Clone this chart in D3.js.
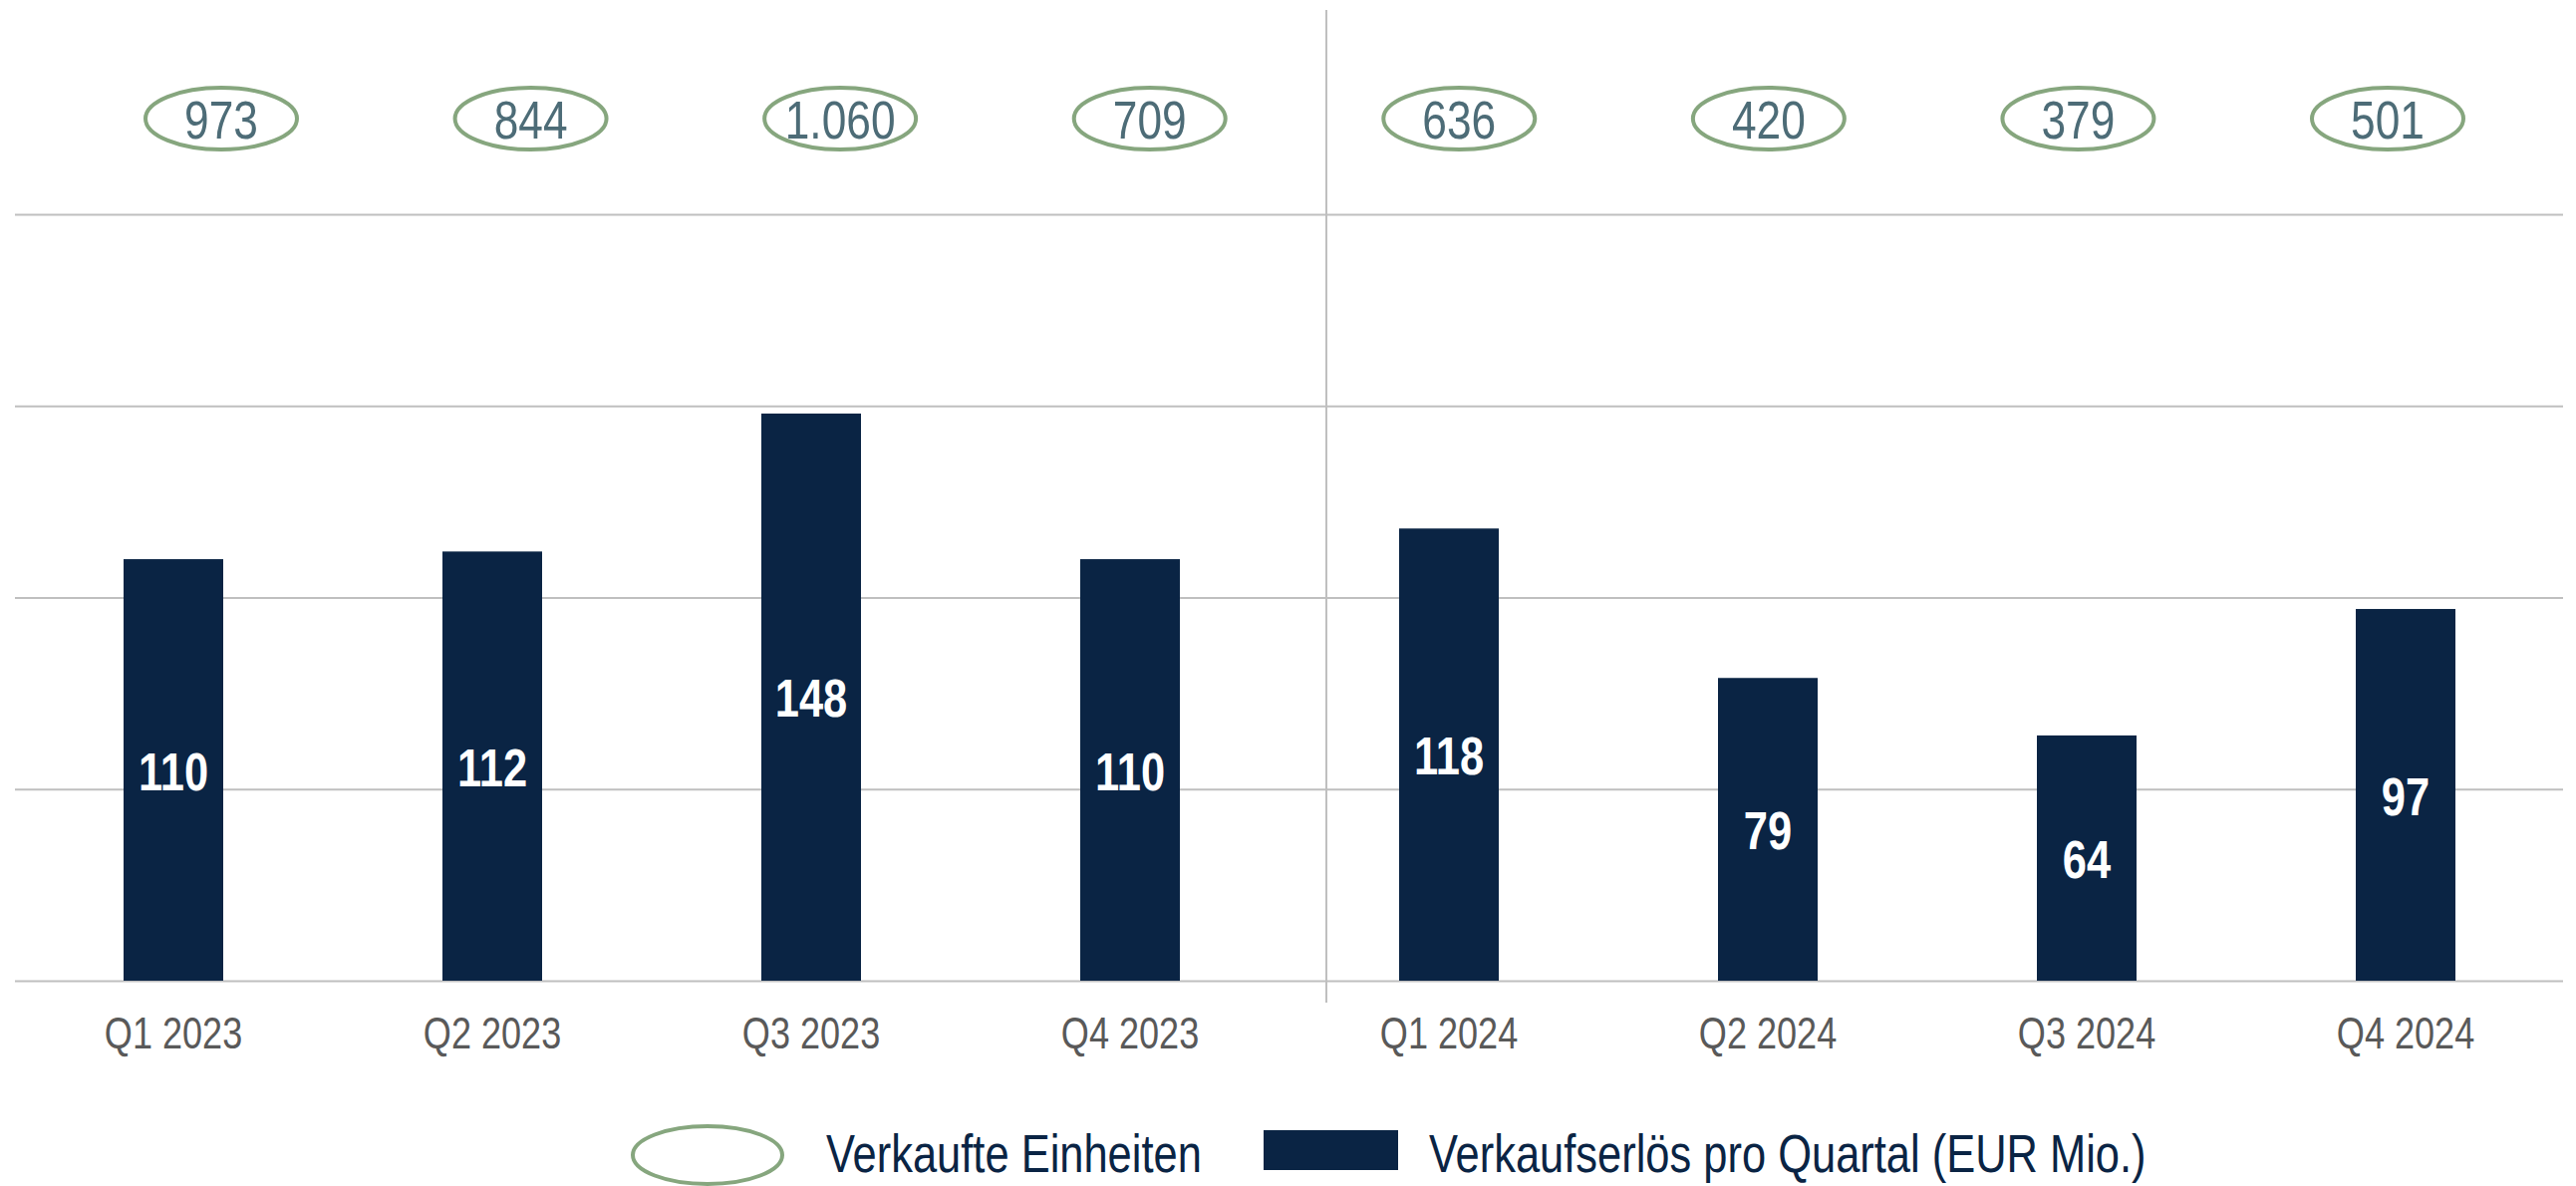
<!DOCTYPE html>
<html>
<head>
<meta charset="utf-8">
<script src="https://cdn.jsdelivr.net/npm/d3@7"></script>
<style>
  body { margin: 0; background: #fff; }
  text { font-family: "Liberation Sans", Arial, sans-serif; }
</style>
</head>
<body>
<div id="chart"></div>
<script>
// data
var quarters = ["Q1 2023", "Q2 2023", "Q3 2023", "Q4 2023", "Q1 2024", "Q2 2024", "Q3 2024", "Q4 2024"];
var revenue = [110, 112, 148, 110, 118, 79, 64, 97];          // EUR Mio.
var units = ["973", "844", "1.060", "709", "636", "420", "379", "501"];
var yTicks = [0, 50, 100, 150, 200];

var svgWidth = 2585;
var svgHeight = 1190;

var navy = "#0a2444";
var green = "#86a67e";
var narrow = 0.82;   // fake a narrow face by squeezing Liberation Sans

var svg = d3.select("#chart").append("svg")
  .attr("width", svgWidth)
  .attr("height", svgHeight);

// put a squeezed text at (px, py)
function narrowText(sel, px, py) {
  return sel.attr("x", 0).attr("y", 0)
    .attr("transform", (d, i) => `translate(${px(d, i)},${py(d, i)}) scale(${narrow},1)`);
}

// scales
var x = d3.scaleBand()
  .domain(quarters)
  .range([14, 2574])
  .paddingInner(0.6875)
  .paddingOuter(0.34375);

var y = d3.scaleLinear()
  .domain([0, 200])
  .range([984, 215]);

// units row sits on its own spacing
var xUnits = d3.scalePoint()
  .domain(quarters)
  .range([222, 2396]);

// gridlines
var grid = svg.append("g")
  .attr("transform", "translate(15,0)")
  .call(d3.axisLeft(y).tickValues(yTicks).tickSize(-2557).tickFormat(""));
grid.select(".domain").remove();
grid.selectAll(".tick line").attr("stroke", "#bfbfbf").attr("stroke-width", 2);

// year divider
var dividerX = 1331;
svg.append("line")
  .attr("x1", dividerX).attr("x2", dividerX)
  .attr("y1", 10).attr("y2", 1006)
  .attr("stroke", "#bfbfbf")
  .attr("stroke-width", 2);

// bars
svg.selectAll(".bar")
  .data(revenue)
  .enter()
  .append("rect")
  .attr("class", "bar")
  .attr("x", (d, i) => x(quarters[i]))
  .attr("y", d => y(d))
  .attr("width", x.bandwidth())
  .attr("height", d => y(0) - y(d))
  .attr("fill", navy);

// values inside the bars
svg.selectAll(".barlbl")
  .data(revenue)
  .enter()
  .append("text")
  .attr("class", "barlbl")
  .call(narrowText, (d, i) => x(quarters[i]) + x.bandwidth() / 2, d => (y(d) + y(0)) / 2 + 20)
  .attr("text-anchor", "middle")
  .attr("font-size", 53)
  .attr("font-weight", "bold")
  .attr("fill", "#fff")
  .text(d => d);

// x labels
svg.selectAll(".xlbl")
  .data(quarters)
  .enter()
  .append("text")
  .attr("class", "xlbl")
  .call(narrowText, d => x(d) + x.bandwidth() / 2, () => y(0) + 68)
  .attr("text-anchor", "middle")
  .attr("font-size", 44)
  .attr("fill", "#595959")
  .text(d => d);

// sold units in ellipses
var unitGrp = svg.selectAll(".unit")
  .data(units)
  .enter()
  .append("g")
  .attr("class", "unit")
  .attr("transform", (d, i) => `translate(${xUnits(quarters[i])},119)`);

unitGrp.append("ellipse")
  .attr("rx", 76)
  .attr("ry", 31)
  .attr("fill", "none")
  .attr("stroke", green)
  .attr("stroke-width", 4);

unitGrp.append("text")
  .call(narrowText, () => 0, () => 20)
  .attr("text-anchor", "middle")
  .attr("font-size", 54)
  .attr("fill", "#4d6c77")
  .text(d => d);

// legend
var legend = svg.append("g");
legend.append("ellipse")
  .attr("cx", 710).attr("cy", 1159)
  .attr("rx", 75).attr("ry", 29)
  .attr("fill", "none")
  .attr("stroke", green)
  .attr("stroke-width", 4);
legend.append("text")
  .call(narrowText, () => 829, () => 1176)
  .attr("font-size", 53)
  .attr("fill", navy)
  .text("Verkaufte Einheiten");
legend.append("rect")
  .attr("x", 1268).attr("y", 1134)
  .attr("width", 135).attr("height", 40)
  .attr("fill", navy);
legend.append("text")
  .call(narrowText, () => 1434, () => 1176)
  .attr("font-size", 53)
  .attr("fill", navy)
  .text("Verkaufserlös pro Quartal (EUR Mio.)");
</script>
</body>
</html>
